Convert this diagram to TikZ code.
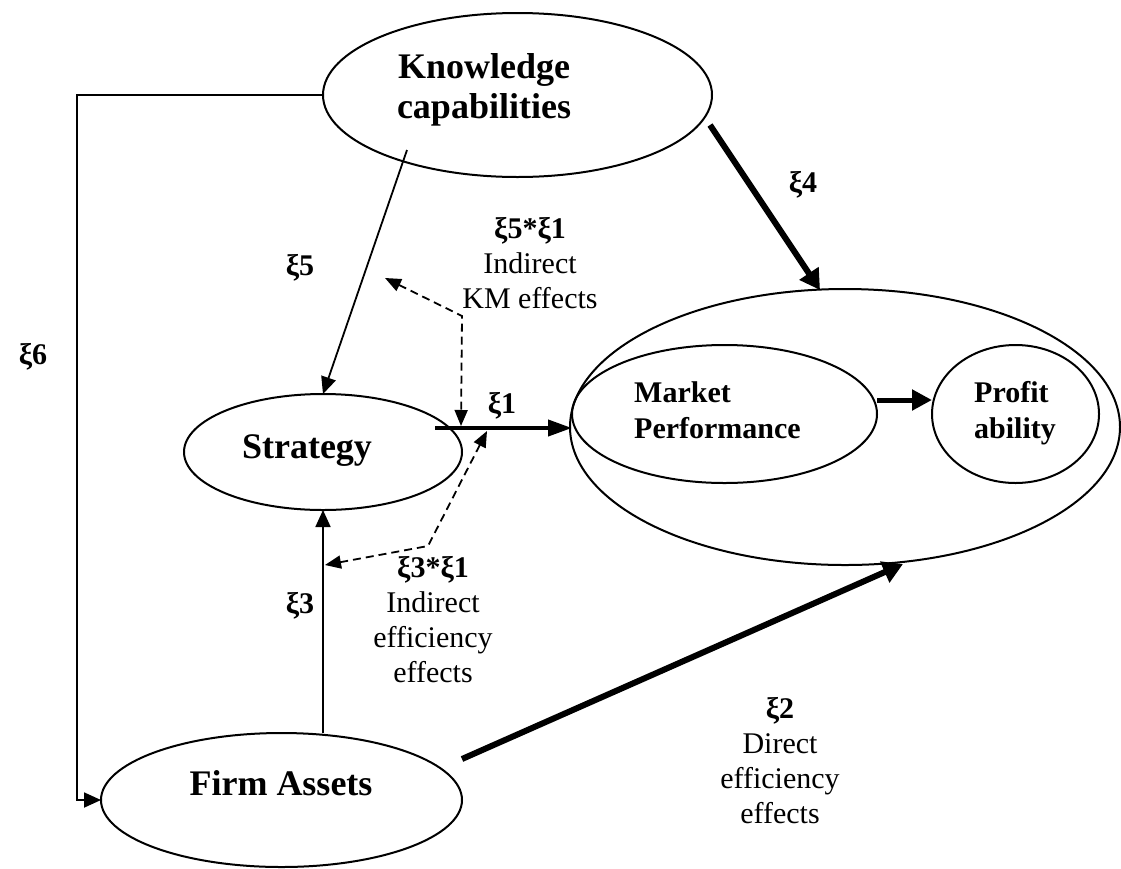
\documentclass[tikz,border=0pt]{standalone}
\usepackage{fontspec}
\setmainfont{Liberation Serif}
\usetikzlibrary{shapes.geometric,arrows.meta}
\begin{document}
\begin{tikzpicture}[x=1pt,y=-1pt,
  oval/.style={draw,ellipse,line width=2pt,inner sep=0pt,outer sep=0pt},
  conn/.style={line width=1.8pt,-{Triangle[length=17pt,width=15pt]}},
  dconn/.style={line width=1.8pt,dash pattern=on 8pt off 5pt,
     {Triangle[length=16pt,width=13pt]}-{Triangle[length=16pt,width=13pt]}},
  heavy/.style={line width=6pt,-{Triangle[length=20pt,width=22pt]}},
  midarrow/.style={line width=4pt,-{Triangle[length=24pt,width=16pt]}},
  mparrow/.style={line width=5pt,-{Triangle[length=20pt,width=20pt]}},
  big/.style={font=\fontsize{36}{40}\selectfont\bfseries,align=center,anchor=base,inner sep=0pt},
  mp/.style={font=\fontsize{30}{36}\selectfont\bfseries,align=left,anchor=base west,inner sep=0pt},
  lab/.style={font=\fontsize{30}{35}\selectfont,align=center,anchor=base,inner sep=0pt},
  xi/.style={font=\fontsize{30}{35}\selectfont\bfseries,inner sep=0pt}
]
\useasboundingbox (0,0) rectangle (1121,868);

% ellipses
\node[oval,minimum width=389pt,minimum height=164pt] (know) at (517.5,95) {};
\node[oval,minimum width=278pt,minimum height=116pt] (strat) at (323,452) {};
\node[oval,minimum width=361pt,minimum height=134pt] (firm) at (281.5,800) {};
\node[oval,minimum width=550pt,minimum height=276pt] (outer) at (845,427) {};
\node[oval,minimum width=305pt,minimum height=138pt] (market) at (724.5,414) {};
\node[oval,minimum width=167pt,minimum height=138pt] (profit) at (1015.5,414) {};

% texts (anchor base = baseline of last line)
\node[big] (tknow) at (484,118) {Knowledge\\capabilities};
\node[big] (tstrat) at (307,458) {Strategy};
\node[big] (tfirm) at (281,795) {Firm Assets};
\node[mp] (tmarket) at (634,438) {Market\\Performance};
\node[mp] (tprofit) at (974,438) {Profit\\ability};

% labels
\node[xi] (x5) at (300,268) {ξ5};
\node[xi] (x6) at (33,357) {ξ6};
\node[xi] (x3) at (300,606) {ξ3};
\node[xi,anchor=base] (x4) at (803,192) {ξ4};
\node[xi,anchor=base] (x1) at (502,413) {ξ1};
\node[lab] (l51) at (530,308) {\textbf{ξ5*ξ1}\\Indirect\\KM effects};
\node[lab] (l31) at (433,682) {\textbf{ξ3*ξ1}\\Indirect\\efficiency\\effects};
\node[lab] (l2) at (780,823) {\textbf{ξ2}\\Direct\\efficiency\\effects};

% coordinates
\coordinate (c6) at (77,95);
\coordinate (k5) at (407,150);
\coordinate (k4) at (710,125);
\coordinate (o4) at (820,290);
\coordinate (f2) at (462,759);
\coordinate (o2) at (903,564);
\coordinate (s1) at (435,428);
\coordinate (m1) at (877,400);
\coordinate (d1a) at (385,278);
\coordinate (d1b) at (462,316);
\coordinate (d1c) at (461,426);
\coordinate (d2a) at (487,431);
\coordinate (d2b) at (428,546);
\coordinate (d2c) at (325,565);

% connectors
\draw[conn] (know.west) -- (c6) |- (firm.west);
\draw[conn] (k5) -- (strat.north);
\draw[conn] (strat.south |- firm.north) -- (strat.south);
\draw[heavy] (k4) -- (o4);
\draw[heavy] (f2) -- (o2);
\draw[midarrow] (s1) -- (market.west |- s1);
\draw[mparrow] (m1) -- (profit.west |- m1);
\draw[dconn] (d1a) -- (d1b) -- (d1c);
\draw[dconn] (d2a) -- (d2b) -- (d2c);
\end{tikzpicture}
\end{document}
